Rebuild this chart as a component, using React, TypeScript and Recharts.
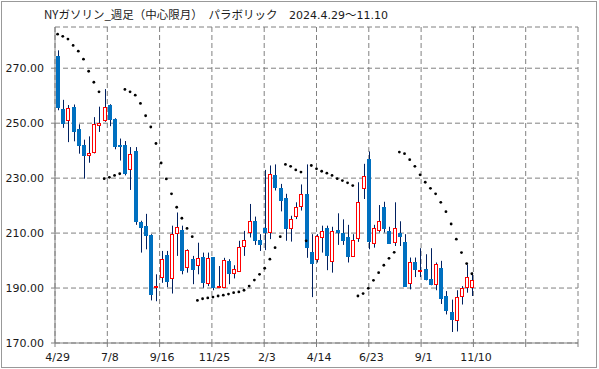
import React from 'react';
import { ComposedChart, Bar, Line, XAxis, YAxis, CartesianGrid } from 'recharts';

// weekly candles 2024/4/29 .. 2025/11/10, axis runs on past the last week
const tickLabels = ['4/29', '7/8', '9/16', '11/25', '2/3', '4/14', '6/23', '9/1', '11/10'];
const priceTicks = [170, 190, 210, 230, 250, 270];

const openVals = [
  274.5, 255.0, 250.8, 255.8, 247.8, 241.9, 237.9, 239.3, 248.8, 250.8,
  256.6, 251.4, 242.0, 241.9, 233.0, 239.7, 214.2, 212.7, 209.4, 190.1,
  193.8, 202.0, 193.2, 209.6, 211.2, 197.4, 200.5, 198.0, 201.3, 191.5,
  201.3, 190.1, 190.1, 199.8, 195.0, 196.0, 205.1, 210.2, 214.5, 207.5,
  211.8, 209.9, 231.0, 226.5, 222.8, 211.5, 215.7, 219.4, 224.3, 203.2,
  200.1, 208.1, 211.8, 199.3, 211.3, 210.0, 208.6, 201.4, 208.0, 226.1,
  236.8, 206.0, 210.6, 219.6, 210.8, 206.3, 210.0, 206.8, 191.3, 199.5,
  196.3, 197.0, 193.4, 191.1, 197.4, 187.1, 181.2, 177.9, 186.7, 189.9,
  190.1,
];
const highVals = [
  276.5, 258.5, 256.6, 256.8, 249.6, 244.0, 245.2, 252.2, 256.0, 262.4,
  256.9, 251.8, 244.4, 243.5, 241.3, 241.3, 214.5, 217.0, 209.6, 195.0,
  203.5, 203.5, 212.7, 217.5, 212.7, 204.1, 201.7, 206.5, 202.9, 202.9,
  201.3, 198.0, 201.0, 200.5, 198.3, 207.2, 210.8, 220.6, 216.0, 209.6,
  233.0, 234.6, 235.0, 227.9, 224.3, 216.3, 221.2, 227.7, 235.0, 209.6,
  209.6, 212.7, 212.7, 212.3, 217.2, 215.0, 213.0, 209.6, 228.5, 235.2,
  239.7, 213.0, 220.2, 221.4, 212.3, 221.2, 214.3, 209.6, 201.1, 201.1,
  204.5, 202.3, 204.5, 199.3, 199.9, 188.9, 185.8, 189.2, 190.7, 198.6,
  195.6,
];
const lowVals = [
  254.7, 248.3, 243.1, 243.4, 238.9, 229.8, 235.6, 239.0, 246.8, 250.5,
  248.9, 240.5, 236.4, 231.0, 225.7, 213.0, 202.9, 204.1, 185.5, 185.2,
  191.9, 190.3, 188.0, 201.7, 195.0, 195.6, 191.4, 195.0, 190.1, 190.7,
  189.2, 190.1, 190.1, 191.4, 193.5, 196.0, 201.7, 208.4, 205.7, 203.5,
  203.8, 207.8, 225.5, 217.9, 207.2, 206.9, 215.1, 218.2, 201.0, 186.7,
  199.3, 202.9, 196.5, 195.6, 205.7, 205.7, 199.3, 201.3, 206.8, 222.4,
  204.1, 204.7, 210.2, 210.2, 206.2, 205.3, 205.3, 190.4, 189.5, 194.0,
  194.0, 192.8, 191.0, 189.2, 184.2, 180.4, 174.0, 174.2, 184.0, 188.3,
  187.1,
];
const closeVals = [
  255.4, 249.7, 255.7, 246.8, 241.7, 238.0, 239.0, 249.6, 250.2, 255.8,
  251.3, 241.3, 241.3, 231.6, 238.9, 213.9, 211.8, 209.0, 187.4, 190.7,
  200.5, 192.3, 209.6, 212.3, 196.2, 203.8, 196.5, 201.1, 191.9, 201.1,
  189.9, 190.7, 200.1, 195.0, 196.8, 205.1, 207.4, 214.5, 207.2, 205.6,
  210.2, 231.6, 226.5, 221.8, 211.5, 215.1, 219.4, 224.3, 204.5, 198.9,
  208.8, 210.8, 201.7, 210.8, 209.9, 207.1, 201.3, 207.4, 221.4, 230.9,
  206.6, 211.8, 214.5, 211.5, 206.2, 211.8, 208.4, 190.4, 199.5, 196.6,
  196.6, 192.8, 191.0, 198.6, 185.9, 181.8, 178.2, 186.7, 189.9, 194.0,
  193.1,
];
const sarVals = [
  282.4, 281.6, 280.6, 278.3, 276.2, 273.3, 268.9, 264.9, 261.4, 229.8,
  230.3, 231.0, 231.6, 262.3, 261.4, 260.2, 257.2, 252.7, 248.6, 242.6,
  235.5, 229.7, 224.3, 219.4, 215.4, 211.7, 208.7, 185.5, 186.1, 186.4,
  186.7, 187.1, 187.4, 187.8, 188.3, 188.6, 189.2, 190.7, 192.9, 195.0,
  197.2, 200.5, 204.7, 208.7, 235.0, 234.3, 233.0, 232.2, 207.2, 234.6,
  233.4, 232.5, 231.8, 231.0, 229.8, 229.1, 228.3, 227.3, 187.1, 188.0,
  189.9, 192.8, 195.6, 198.3, 200.8, 203.0, 239.5, 238.9, 236.7, 234.3,
  231.2, 228.5, 226.3, 224.3, 221.2, 217.8, 213.3, 207.8, 202.9, 198.9,
  195.2,
];

const SLOTS = 101;
const rows = Array.from({ length: SLOTS }, (_, i) =>
  i < openVals.length
    ? {
        i,
        o: openVals[i],
        h: highVals[i],
        l: lowVals[i],
        c: closeVals[i],
        range: [lowVals[i], highVals[i]],
        sar: sarVals[i],
      }
    : { i, range: null, sar: null }
);

const JP_FONT = "'Noto Sans CJK JP', 'Noto Sans', sans-serif";
const NUM_FONT = "'DejaVu Sans', sans-serif";
const GRID = '#808080';
const TEXT = '#1a1a1a';

const Candle = (props: any) => {
  const { x, y, width, height, payload } = props;
  if (!payload || payload.o == null) return null;
  const { o, h, l, c } = payload;
  const top = Math.min(y, y + height);
  const span = Math.abs(height);
  const py = (v: number) => (h === l ? top : top + ((h - v) / (h - l)) * span);
  const cx = Math.round(x + width / 2) + 0.5;
  const bTop = Math.round(py(Math.max(o, c)));
  const bBot = Math.round(py(Math.min(o, c)));
  const up = c >= o;
  return (
    <g>
      <line x1={cx} x2={cx} y1={top} y2={top + span} stroke="#002060" strokeWidth={1} />
      {up ? (
        <rect
          x={cx - 2}
          y={bTop + 0.5}
          width={3}
          height={Math.max(bBot - bTop - 1, 1)}
          fill="#fff"
          stroke="#ff0000"
          strokeWidth={1}
        />
      ) : (
        <rect x={cx - 2.5} y={bTop} width={4} height={Math.max(bBot - bTop, 1)} fill="#0070c0" />
      )}
    </g>
  );
};

const DateTick = (props: any) => {
  const { x, y, payload } = props;
  const label = tickLabels[payload.value / 10];
  if (!label) return null;
  return (
    <text x={x + 2.6} y={y} dy={12} textAnchor="middle" fontSize={11} fontFamily={NUM_FONT} fill={TEXT}>
      {label}
    </text>
  );
};

const SarDot = (props: any) => {
  const { cx, cy, payload } = props;
  if (payload.sar == null) return null;
  return <circle cx={cx} cy={cy} r={1.4} fill="#000" />;
};

export default function App() {
  return (
    <div style={{ position: 'relative', width: 599, height: 369, background: '#fff' }}>
      <style>{'body{margin:0}'}</style>
      <div
        style={{
          position: 'absolute', left: 1, top: 1, width: 596, height: 367,
          border: '1px solid #999', boxSizing: 'border-box',
        }}
      />
      <div
        style={{
          position: 'absolute', left: 44, top: 7, fontSize: 11.5, lineHeight: '15px',
          fontFamily: JP_FONT, color: TEXT, whiteSpace: 'pre',
        }}
      >
        {'NYガソリン_週足（中心限月）　パラボリック　'}
        <span style={{ fontFamily: NUM_FONT, fontSize: 11 }}>2024.4.29</span>
        {'～'}
        <span style={{ fontFamily: NUM_FONT, fontSize: 11 }}>11.10</span>
      </div>
      <div style={{ position: 'absolute', left: 0, top: 0 }}>
        <ComposedChart width={599} height={369} data={rows} margin={{ top: 27, right: 21, bottom: 0, left: 0 }}>
          <CartesianGrid stroke={GRID} strokeDasharray="5 3" />
          <XAxis
            type="number"
            domain={[0, SLOTS]}
            ticks={[0, 10, 20, 30, 40, 50, 60, 70, 80, 90, 100]}
            interval={0}
            allowDataOverflow
            height={26}
            tickSize={4}
            axisLine={{ stroke: GRID }}
            tickLine={{ stroke: GRID }}
            tick={<DateTick />}
          />
          <XAxis xAxisId="cat" dataKey="i" type="category" hide />
          <YAxis
            domain={[170, 285]}
            ticks={priceTicks}
            allowDataOverflow
            width={55}
            tickSize={4}
            tickMargin={7}
            axisLine={{ stroke: GRID }}
            tickLine={{ stroke: GRID }}
            tickFormatter={(v: number) => v.toFixed(2)}
            tick={{ fontSize: 11, fontFamily: NUM_FONT, fill: TEXT }}
          />
          <YAxis yAxisId="r" orientation="right" domain={[170, 285]} width={0} tick={false} tickLine={false} axisLine={{ stroke: GRID }} />
          <Bar xAxisId="cat" dataKey="range" barSize={4} shape={<Candle />} isAnimationActive={false} />
          <Line
            xAxisId="cat"
            dataKey="sar"
            stroke="none"
            dot={<SarDot />}
            activeDot={false}
            connectNulls={false}
            isAnimationActive={false}
          />
        </ComposedChart>
      </div>
    </div>
  );
}
